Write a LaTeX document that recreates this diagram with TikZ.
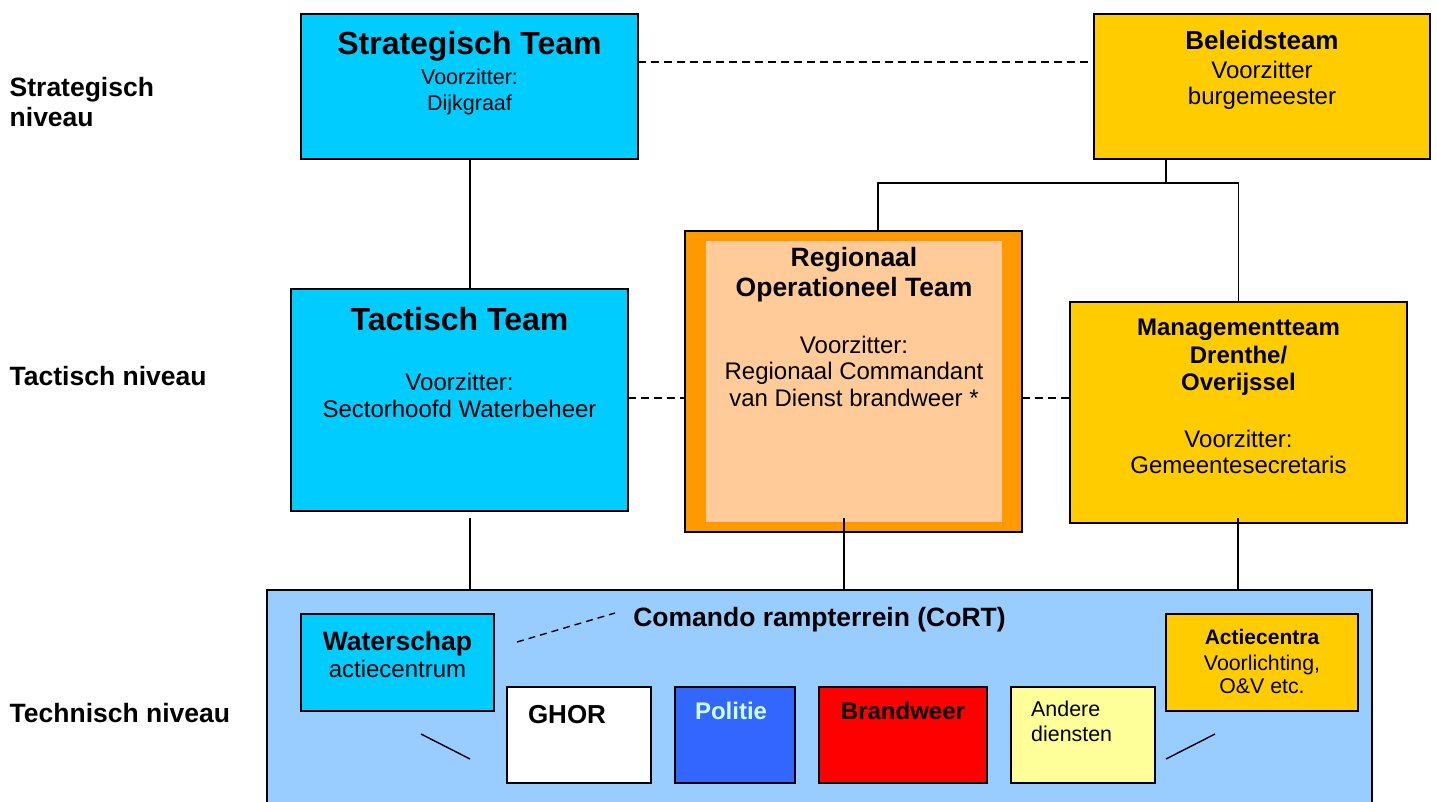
\documentclass[tikz,border=0pt]{standalone}
\usepackage{fontspec}
\setmainfont{Liberation Sans}
\newcommand{\myfs}[1]{\fontsize{#1}{#1}\selectfont}
\definecolor{cyanbox}{HTML}{00CCFF}
\definecolor{goldbox}{HTML}{FFCC00}
\definecolor{orangebox}{HTML}{FF9900}
\definecolor{peachbox}{HTML}{FFCC99}
\definecolor{panelblue}{HTML}{99CCFF}
\definecolor{politieblue}{HTML}{3366FF}
\definecolor{politietext}{HTML}{CCFFFF}
\definecolor{anderebox}{HTML}{FFFF99}
\begin{document}
\begin{tikzpicture}[x=1pt,y=-1pt,
  box/.style={draw=black, line width=2pt, inner sep=0pt, outer sep=0pt},
  lbl/.style={inner sep=0pt, anchor=base},
  lbll/.style={inner sep=0pt, anchor=base west},
  conn/.style={draw=black, line width=1.6pt},
  dconn/.style={draw=black, line width=1.6pt, dash pattern=on 8pt off 5pt}]
\useasboundingbox (0,0) rectangle (1437,802);
\clip (0,0) rectangle (1437,802);

% ---------- boxes ----------
\node[box, fill=cyanbox, minimum width=337, minimum height=145] (st) at (469.5,86.5) {};
\node[box, fill=goldbox, minimum width=336, minimum height=145] (bt) at (1262,86.5) {};
\node[box, fill=cyanbox, minimum width=337, minimum height=222] (tt) at (459.5,400) {};
\node[box, fill=orangebox, minimum width=337, minimum height=301] (rot) at (853.5,381.5) {};
\node[inner sep=0pt, outer sep=0pt, fill=peachbox, minimum width=296, minimum height=281] (rotin) at (854,381.5) {};
\node[box, fill=goldbox, minimum width=337, minimum height=221] (mt) at (1238.5,412.5) {};
\node[box, fill=panelblue, minimum width=1105, minimum height=240] (cort) at (819.5,710) {};
\node[box, fill=cyanbox, minimum width=193, minimum height=97] (ws) at (397.5,662.5) {};
\node[box, fill=goldbox, minimum width=192, minimum height=97] (ac) at (1262,662.5) {};
\node[box, fill=white, minimum width=144, minimum height=96] (ghor) at (579,735) {};
\node[box, fill=politieblue, minimum width=120, minimum height=96] (pol) at (735,735) {};
\node[box, fill=red, minimum width=168, minimum height=96] (bw) at (903,735) {};
\node[box, fill=anderebox, minimum width=144, minimum height=96] (ad) at (1083,735) {};

% ---------- helper coordinates ----------
\coordinate (ydash1) at (0,62);
\coordinate (ydash2) at (0,398);
\coordinate (btout) at (1166,159);
\coordinate (bar) at (1166,183);
\coordinate (rottop) at (878,231);
\coordinate (ttout) at (470,518);
\coordinate (rotout) at (844,518);
\coordinate (mtout) at (1238,518);
\coordinate (wsd1) at (517,642);
\coordinate (wsd2) at (615,613);
\coordinate (sl1a) at (421,734);
\coordinate (sl1b) at (470,759);
\coordinate (sl2a) at (1166,759);
\coordinate (sl2b) at (1215,734);

% ---------- connectors ----------
\draw[dconn] (st.east |- ydash1) -- (bt.west |- ydash1);
\draw[conn] (st.south -| ttout) -- (tt.north -| ttout);
\draw[conn] (btout) -- (bar) -| (mt.north);
\draw[conn] (bar) -| (rottop);
\draw[dconn] (tt.east |- ydash2) -- (rot.west |- ydash2);
\draw[dconn] (rot.east |- ydash2) -- (mt.west |- ydash2);
\draw[conn] (ttout) -- (ttout |- cort.north);
\draw[conn] (rotout) -- (rotout |- cort.north);
\draw[conn] (mtout) -- (mtout |- cort.north);
\draw[dconn, line width=1.4pt, dash pattern=on 7pt off 5pt] (wsd1) -- (wsd2);
\draw[conn, line width=1.4pt] (sl1a) -- (sl1b);
\draw[conn, line width=1.4pt] (sl2a) -- (sl2b);

% ---------- left level labels ----------
\node[lbll, font=\bfseries\myfs{26.5}] (lv1a) at (9.5,97) {Strategisch};
\node[lbll, font=\bfseries\myfs{26.5}] (lv1b) at (9.5,127) {niveau};
\node[lbll, font=\bfseries\myfs{26.5}] (lv2) at (9.5,385) {Tactisch niveau};
\node[lbll, font=\bfseries\myfs{26.5}] (lv3) at (9.5,722) {Technisch niveau};

% ---------- Strategisch Team ----------
\node[lbl, font=\bfseries\myfs{32}] (st1) at (469.5,55) {Strategisch Team};
\node[lbl, font=\myfs{21.5}] (st2) at (469.5,85) {Voorzitter:};
\node[lbl, font=\myfs{21.5}] (st3) at (469.5,111) {Dijkgraaf};

% ---------- Beleidsteam ----------
\node[lbl, font=\bfseries\myfs{26}] (bt1) at (1262,50) {Beleidsteam};
\node[lbl, font=\myfs{24}] (bt2) at (1262,79) {Voorzitter};
\node[lbl, font=\myfs{24}] (bt3) at (1262,105) {burgemeester};

% ---------- Tactisch Team ----------
\node[lbl, font=\bfseries\myfs{32}] (tt1) at (459.5,330) {Tactisch Team};
\node[lbl, font=\myfs{24}] (tt2) at (459.5,390) {Voorzitter:};
\node[lbl, font=\myfs{24}] (tt3) at (459.5,417) {Sectorhoofd Waterbeheer};

% ---------- ROT ----------
\node[lbl, font=\bfseries\myfs{26.5}] (rot1) at (854,266) {Regionaal};
\node[lbl, font=\bfseries\myfs{26.5}] (rot2) at (854,296) {Operationeel Team};
\node[lbl, font=\myfs{24}] (rot3) at (854,353) {Voorzitter:};
\node[lbl, font=\myfs{24}] (rot4) at (854,379) {Regionaal Commandant};
\node[lbl, font=\myfs{24}] (rot5) at (854,406) {van Dienst brandweer *};

% ---------- Managementteam ----------
\node[lbl, font=\bfseries\myfs{24}] (mt1) at (1238.5,335) {Managementteam};
\node[lbl, font=\bfseries\myfs{24}] (mt2) at (1238.5,363) {Drenthe/};
\node[lbl, font=\bfseries\myfs{24}] (mt3) at (1238.5,390) {Overijssel};
\node[lbl, font=\myfs{24}] (mt4) at (1238.5,447) {Voorzitter:};
\node[lbl, font=\myfs{24}] (mt5) at (1238.5,473) {Gemeentesecretaris};

% ---------- CoRT panel ----------
\node[lbl, font=\bfseries\myfs{26.5}] (cort1) at (819.5,626) {Comando rampterrein (CoRT)};
\node[lbl, font=\bfseries\myfs{26.5}] (ws1) at (397.5,650) {Waterschap};
\node[lbl, font=\myfs{24}] (ws2) at (397.5,677) {actiecentrum};
\node[lbl, font=\bfseries\myfs{21}] (ac1) at (1262,644) {Actiecentra};
\node[lbl, font=\myfs{21.3}] (ac2) at (1262,670) {Voorlichting,};
\node[lbl, font=\myfs{21.3}] (ac3) at (1262,693) {O\&V etc.};
\node[lbl, font=\bfseries\myfs{26}] (ghor1) at (567,723) {GHOR};
\node[lbl, font=\bfseries\myfs{24}, text=politietext] (pol1) at (731,719) {Politie};
\node[lbl, font=\bfseries\myfs{24}] (bw1) at (903,719) {Brandweer};
\node[lbll, font=\myfs{21.4}] (ad1) at (1031,716) {Andere};
\node[lbll, font=\myfs{21.4}] (ad2) at (1031,741) {diensten};
\end{tikzpicture}
\end{document}
